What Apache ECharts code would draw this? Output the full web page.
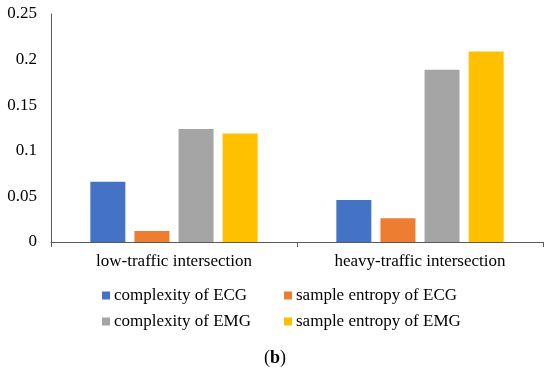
<!DOCTYPE html>
<html><head><meta charset="utf-8">
<script src="https://cdn.jsdelivr.net/npm/echarts@6/dist/echarts.min.js"></script>
<style>html,body{margin:0;padding:0;background:#fff}#c{width:550px;height:374px}</style>
</head><body><div id="c"></div>
<script>
var categories = ['low-traffic intersection', 'heavy-traffic intersection'];
var seriesNames = ['complexity of ECG', 'sample entropy of ECG', 'complexity of EMG', 'sample entropy of EMG'];
var complexityECG = [0.066, 0.046];
var sampleEntropyECG = [0.012, 0.026];
var complexityEMG = [0.124, 0.189];
var sampleEntropyEMG = [0.119, 0.209];
var yTicks = [0, 0.05, 0.1, 0.15, 0.2, 0.25];
var colors = ['#4472C4', '#ED7D31', '#A5A5A5', '#FFC000'];
var font = '"Liberation Serif", "Times New Roman", serif';
var values = [complexityECG, sampleEntropyECG, complexityEMG, sampleEntropyEMG];

var chart = echarts.init(document.getElementById('c'));
var legendBase = {orient: 'vertical', top: 287, padding: 0, itemWidth: 8, itemHeight: 8, itemGap: 9, icon: 'rect',
  textStyle: {fontFamily: font, fontSize: 17, color: '#000', padding: [0,0,0,-1]}};
chart.setOption({
  animation: false,
  color: colors,
  title: {text: '({b|b})', left: 'center', top: 349, padding: 0,
    textStyle: {fontFamily: font, fontSize: 18, fontWeight: 'normal', color: '#000',
      rich: {b: {fontFamily: font, fontSize: 18, fontWeight: 'bold', color: '#000'}}}},
  legend: [
    Object.assign({}, legendBase, {data: [seriesNames[0], seriesNames[2]], left: 102}),
    Object.assign({}, legendBase, {data: [seriesNames[1], seriesNames[3]], left: 284})
  ],
  grid: {left: 51, right: 7, top: 14, bottom: 132, containLabel: false},
  xAxis: {type: 'category', data: categories,
    axisLine: {lineStyle: {color: '#595959', width: 1}},
    axisTick: {show: true, length: 5, lineStyle: {color: '#595959'}},
    axisLabel: {fontFamily: font, fontSize: 17, color: '#000', margin: 11}},
  yAxis: {type: 'value', min: 0, max: 0.25, interval: 0.05,
    axisLine: {show: true, lineStyle: {color: '#595959', width: 1}},
    axisTick: {show: false}, splitLine: {show: false},
    axisLabel: {fontFamily: font, fontSize: 17, color: '#000', margin: 14,
      formatter: function(v){ var t = yTicks.find(function(x){return Math.abs(x-v)<1e-9;}); return String(t !== undefined ? t : v); }}},
  series: seriesNames.map(function(n, i){
    return {name: n, type: 'bar', data: values[i], barWidth: 35, barGap: '26%'};
  })
});
</script></body></html>
